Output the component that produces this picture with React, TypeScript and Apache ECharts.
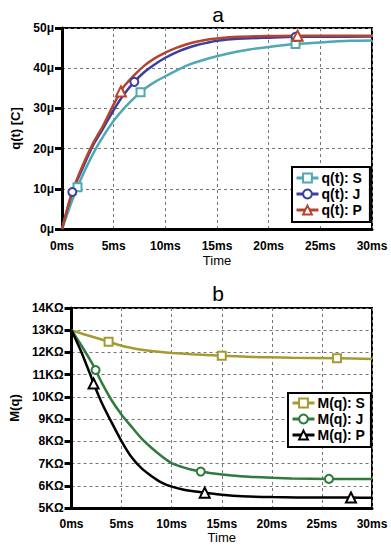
import React, { useEffect, useRef } from "react";
import * as echarts from "echarts";

// ---------- Data (a): q(t) in μC vs time in ms ----------
const timeTicks = [0, 5, 10, 15, 20, 25, 30];

const qS_t = [0, 1, 1.5, 2, 3, 4, 5, 6, 7, 7.6, 8, 9, 10, 12, 14, 16, 18, 20, 22.6, 25, 28, 30];
const qS_v = [0, 7.2, 10.4, 13.4, 18.7, 23.1, 26.9, 30.0, 32.6, 34.0, 34.9, 36.6, 38.0, 40.6, 42.3, 43.6, 44.6, 45.3, 46.0, 46.4, 46.8, 46.9];
const qS_marks = [1.5, 7.6, 22.6];

const qJ_t = [0, 1, 2, 3, 4, 5, 6, 7, 8, 9, 10, 11, 12, 13, 14, 15, 17, 20, 22.6, 25, 30];
const qJ_v = [0, 9.2, 15.2, 20.8, 25.1, 29.6, 33.5, 36.6, 39.1, 41.0, 42.6, 43.9, 44.9, 45.7, 46.3, 46.8, 47.3, 47.6, 47.8, 47.8, 47.9];
const qJ_marks = [1, 7, 22.6];

const qP_t = [0, 1, 2, 3, 4, 5, 5.7, 6, 7, 8, 9, 10, 11, 12, 13, 14, 15, 17, 20, 22.8, 25, 30];
const qP_v = [0, 9.3, 15.8, 21.3, 25.8, 31.0, 34.2, 35.5, 38.3, 40.7, 42.5, 43.9, 45.0, 45.9, 46.6, 47.1, 47.4, 47.8, 48.0, 48.1, 48.1, 48.1];
const qP_marks = [5.7, 22.8];

// ---------- Data (b): M(q) in KΩ vs time in ms ----------
const mS_t = [0, 1, 2, 3, 3.7, 5, 6, 7, 8, 10, 12, 15, 18, 20, 22, 26.5, 30];
const mS_v = [13.0, 12.85, 12.72, 12.58, 12.48, 12.3, 12.2, 12.12, 12.06, 11.98, 11.92, 11.85, 11.8, 11.78, 11.76, 11.74, 11.7];
const mS_marks = [3.7, 15, 26.5];

const mJ_t = [0, 1, 2, 2.4, 3, 4, 5, 6, 7, 8, 9, 10, 11, 12, 12.9, 14, 16, 18, 20, 22, 25.7, 30];
const mJ_v = [13.0, 12.3, 11.55, 11.21, 10.65, 9.85, 9.2, 8.65, 8.12, 7.7, 7.33, 7.02, 6.85, 6.72, 6.64, 6.56, 6.46, 6.4, 6.36, 6.33, 6.31, 6.3];
const mJ_marks = [2.4, 12.9, 25.7];

const mP_t = [0, 1, 2, 2.2, 3, 4, 5, 6, 7, 8, 9, 10, 11, 12, 13.3, 15, 17, 20, 25, 27.9, 30];
const mP_v = [13.0, 12.0, 10.85, 10.6, 9.75, 8.85, 8.0, 7.28, 6.78, 6.43, 6.14, 5.96, 5.84, 5.76, 5.69, 5.6, 5.53, 5.49, 5.47, 5.47, 5.46];
const mP_marks = [2.2, 13.3, 27.9];

const FONT = "'Liberation Sans', Arial, sans-serif";

function makeSeries(
  name: string,
  t: number[],
  v: number[],
  marks: number[],
  color: string,
  symbol: string,
  size: number,
  axisIndex: number
) {
  return {
    name,
    type: "line",
    xAxisIndex: axisIndex,
    yAxisIndex: axisIndex,
    data: t.map((x, i) => [x, v[i]]),
    smooth: 0.25,
    symbol,
    showSymbol: true,
    symbolSize: (val: number[]) => (marks.indexOf(val[0]) >= 0 ? size : 0),
    lineStyle: { color, width: 2.5 },
    itemStyle: { color, borderColor: color, borderWidth: 1.3 },
    emphasis: { disabled: true },
    z: 3,
  };
}

export default function App() {
  const ref = useRef<HTMLDivElement>(null);
  useEffect(() => {
    document.body.style.margin = "0";
    if (!ref.current) return;
    const chart = echarts.init(ref.current, undefined, { renderer: "svg" });

    const splitLine = { show: true, lineStyle: { color: "#777", type: [3, 3], width: 1 } };
    const xAxisBase = (gridIndex: number, margin: number, nameGap: number) => ({
      type: "value",
      gridIndex,
      min: 0,
      max: 30,
      interval: 5,
      name: "Time",
      nameLocation: "middle",
      nameGap,
      nameTextStyle: { fontFamily: FONT, fontSize: 13, color: "#000" },
      axisLine: { show: true, onZero: false, lineStyle: { color: "#000", width: 3 } },
      axisTick: { show: false },
      axisLabel: {
        margin,
        fontFamily: FONT,
        fontSize: 12,
        fontWeight: "bold",
        color: "#000",
        formatter: (v: number) => (timeTicks.indexOf(v) >= 0 ? `${v}ms` : ""),
      },
      splitLine,
    });

    const legendBase = {
      orient: "vertical",
      itemGap: 2,
      itemWidth: 22,
      itemHeight: 11,
      backgroundColor: "#fff",
      borderColor: "#000",
      borderWidth: 2,
      borderRadius: 0,
      lineStyle: { width: 3 },
      textStyle: { fontFamily: FONT, fontSize: 14, fontWeight: "bold", color: "#000", lineHeight: 14, padding: [0, 0, 0, -2] },
      selectedMode: false,
    };

    const option: any = {
      animation: false,
      backgroundColor: "#fff",
      graphic: [
        { type: "text", x: 218, y: 14, style: { text: "a", fontFamily: FONT, fontSize: 21, fill: "#000", textAlign: "center", textVerticalAlign: "middle" } },
        { type: "text", x: 218, y: 293, style: { text: "b", fontFamily: FONT, fontSize: 21, fill: "#000", textAlign: "center", textVerticalAlign: "middle" } },
      ],
      grid: [
        { left: 62, right: 19, top: 28, height: 201, show: true, borderColor: "#000", borderWidth: 2, backgroundColor: "transparent" },
        { left: 62, right: 19, top: 308, height: 200, show: true, borderColor: "#000", borderWidth: 2, backgroundColor: "transparent" },
      ],
      xAxis: [xAxisBase(0, 11, 25), xAxisBase(1, 10, 22)],
      yAxis: [
        {
          type: "value",
          gridIndex: 0,
          min: 0,
          max: 50,
          interval: 10,
          name: "q(t) [C]",
          nameLocation: "middle",
          nameGap: 38,
          nameTextStyle: { fontFamily: FONT, fontSize: 13, fontWeight: "bold", color: "#000" },
          axisLine: { show: true, lineStyle: { color: "#000", width: 3 } },
          axisTick: { show: true, length: 7, lineStyle: { color: "#000", width: 3 } },
          axisLabel: { margin: 8, fontFamily: FONT, fontSize: 12, fontWeight: "bold", color: "#000", formatter: (v: number) => `${v}μ` },
          splitLine,
        },
        {
          type: "value",
          gridIndex: 1,
          min: 5,
          max: 14,
          interval: 1,
          name: "M(q)",
          nameLocation: "middle",
          nameGap: 46,
          nameTextStyle: { fontFamily: FONT, fontSize: 13, fontWeight: "bold", color: "#000" },
          axisLine: { show: true, lineStyle: { color: "#000", width: 3 } },
          axisTick: { show: true, length: 7, lineStyle: { color: "#000", width: 3 } },
          axisLabel: { margin: 8, fontFamily: FONT, fontSize: 12, fontWeight: "bold", color: "#000", formatter: (v: number) => `${v}KΩ` },
          splitLine,
        },
      ],
      legend: [
        { ...legendBase, data: ["q(t): S", "q(t): J", "q(t): P"], left: 292, top: 167, padding: [4, 8, 5, 3] },
        { ...legendBase, data: ["M(q): S", "M(q): J", "M(q): P"], left: 288, top: 393, padding: [3, 6, 5, 3] },
      ],
      series: [
        makeSeries("q(t): S", qS_t, qS_v, qS_marks, "#4fa8b2", "emptyRect", 8, 0),
        makeSeries("q(t): J", qJ_t, qJ_v, qJ_marks, "#3c3f9e", "emptyCircle", 8, 0),
        makeSeries("q(t): P", qP_t, qP_v, qP_marks, "#b5442c", "emptyTriangle", 10, 0),
        makeSeries("M(q): S", mS_t, mS_v, mS_marks, "#a69a32", "emptyRect", 8, 1),
        makeSeries("M(q): J", mJ_t, mJ_v, mJ_marks, "#2e7b3b", "emptyCircle", 8, 1),
        makeSeries("M(q): P", mP_t, mP_v, mP_marks, "#000000", "emptyTriangle", 10, 1),
      ],
    };
    chart.setOption(option);
    return () => chart.dispose();
  }, []);
  return <div ref={ref} style={{ width: 391, height: 550 }} />;
}
